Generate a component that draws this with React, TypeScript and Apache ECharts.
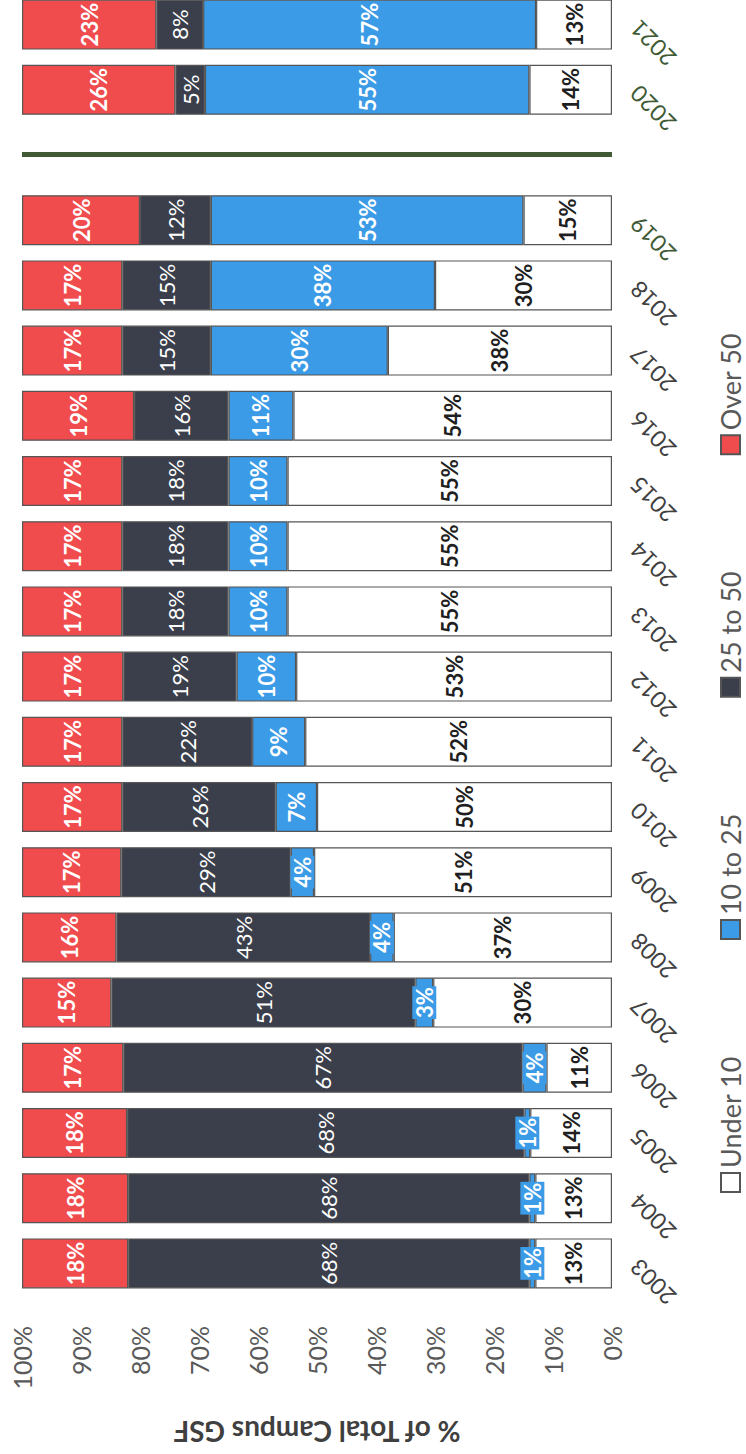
import React, { useEffect, useRef } from "react";
import * as echarts from "echarts";

// Categories (a blank slot separates 2019 from 2020)
const years = ["2003", "2004", "2005", "2006", "2007", "2008", "2009", "2010", "2011", "2012", "2013", "2014", "2015", "2016", "2017", "2018", "2019", "", "2020", "2021"];
const gapIndex = 17;

// Shares of total campus GSF (%), by building age group
const under10 = [13, 13, 14, 11, 30, 37, 51, 50, 52, 53, 55, 55, 55, 54, 38, 30, 15, null, 14, 13];
const from10to25 = [1, 1, 1, 4, 3, 4, 4, 7, 9, 10, 10, 10, 10, 11, 30, 38, 53, null, 55, 57];
const from25to50 = [68, 68, 68, 67, 51, 43, 29, 26, 22, 19, 18, 18, 18, 16, 15, 15, 12, null, 5, 8];
const over50 = [18, 18, 18, 17, 15, 16, 17, 17, 17, 17, 17, 17, 17, 19, 17, 17, 20, null, 26, 23];

const seriesNames = ["Under 10", "10 to 25", "25 to 50", "Over 50"];
const valueTickStep = 10;
const valueMax = 100;

const colors = ["#FFFFFF", "#3C9BE6", "#3B3F4C", "#F04C4E"];
const labelColors = ["#1f1f1f", "#FFFFFF", "#FFFFFF", "#FFFFFF"];
const labelWeights = ["bold", "bold", "normal", "bold"];

const FONT = "Lato, 'Open Sans', sans-serif";

export default function App() {
  const ref = useRef<HTMLDivElement>(null);

  useEffect(() => {
    if (!ref.current) return;
    const chart = echarts.init(ref.current, null, { renderer: "svg", width: 1480, height: 746 });
    const raw = [under10, from10to25, from25to50, over50];
    const totals = years.map((_, i) => {
      if (under10[i] == null) return null;
      return raw.reduce((s, arr) => s + (arr[i] as number), 0);
    });
    const series = raw.map((arr, si) => ({
      name: seriesNames[si],
      type: "bar",
      stack: "total",
      barWidth: 50,
      data: arr.map((v, i) => (v == null ? null : ((v as number) / (totals[i] as number)) * 100)),
      itemStyle: { color: colors[si], borderColor: "#555555", borderWidth: 1.2 },
      label: {
        show: true,
        position: "inside",
        fontFamily: FONT,
        fontSize: 22,
        fontWeight: labelWeights[si],
        color: labelColors[si],
        backgroundColor: colors[si],
        padding: [1, 1],
        formatter: (p: any) => (arr[p.dataIndex] == null ? "" : arr[p.dataIndex] + "%"),
      },
      ...(si === 3
        ? {
            markLine: {
              silent: true,
              symbol: ["none", "none"],
              label: { show: false },
              lineStyle: { color: "#3F5A35", width: 5, type: "solid" },
              data: [{ xAxis: gapIndex }],
            },
          }
        : {}),
    }));

    chart.setOption({
      animation: false,
      backgroundColor: "#FFFFFF",
      textStyle: { fontFamily: FONT },
      grid: { left: 144, right: 18, top: 22, bottom: 134, containLabel: false },
      legend: {
        data: seriesNames,
        left: 261,
        top: 717,
        itemWidth: 19,
        itemHeight: 19,
        itemGap: 116,
        icon: "rect",
        padding: 0,
        textStyle: { fontFamily: FONT, fontSize: 27, color: "#595959", lineHeight: 27 },
      },
      xAxis: {
        type: "category",
        data: years,
        axisLine: { show: false },
        axisTick: { show: false },
        axisLabel: {
          rotate: 45,
          margin: 22,
          fontFamily: FONT,
          fontSize: 23,
          interval: 0,
          color: (_v: any, idx: number) => (idx >= 16 ? "#3F5A35" : "#404040"),
        },
      },
      yAxis: {
        type: "value",
        min: 0,
        max: valueMax,
        interval: valueTickStep,
        name: "% of Total Campus GSF",
        nameLocation: "middle",
        nameGap: 122,
        nameRotate: 90,
        nameTextStyle: { fontFamily: FONT, fontSize: 28, fontWeight: "bold", color: "#404040" },
        axisLine: { show: false },
        axisTick: { show: false },
        splitLine: { show: false },
        axisLabel: {
          margin: 30,
          fontFamily: FONT,
          fontSize: 25,
          color: "#595959",
          formatter: "{value}%",
        },
      },
      series,
    });
    return () => chart.dispose();
  }, []);

  return (
    <div style={{ position: "fixed", left: 0, top: 0, width: 746, height: 1454, overflow: "hidden", background: "#fff" }}>
      <div
        ref={ref}
        style={{
          position: "absolute",
          left: 0,
          top: 0,
          width: 1480,
          height: 746,
          transformOrigin: "0 0",
          transform: "translate(0px, 1454px) rotate(-90deg)",
        }}
      />
    </div>
  );
}
